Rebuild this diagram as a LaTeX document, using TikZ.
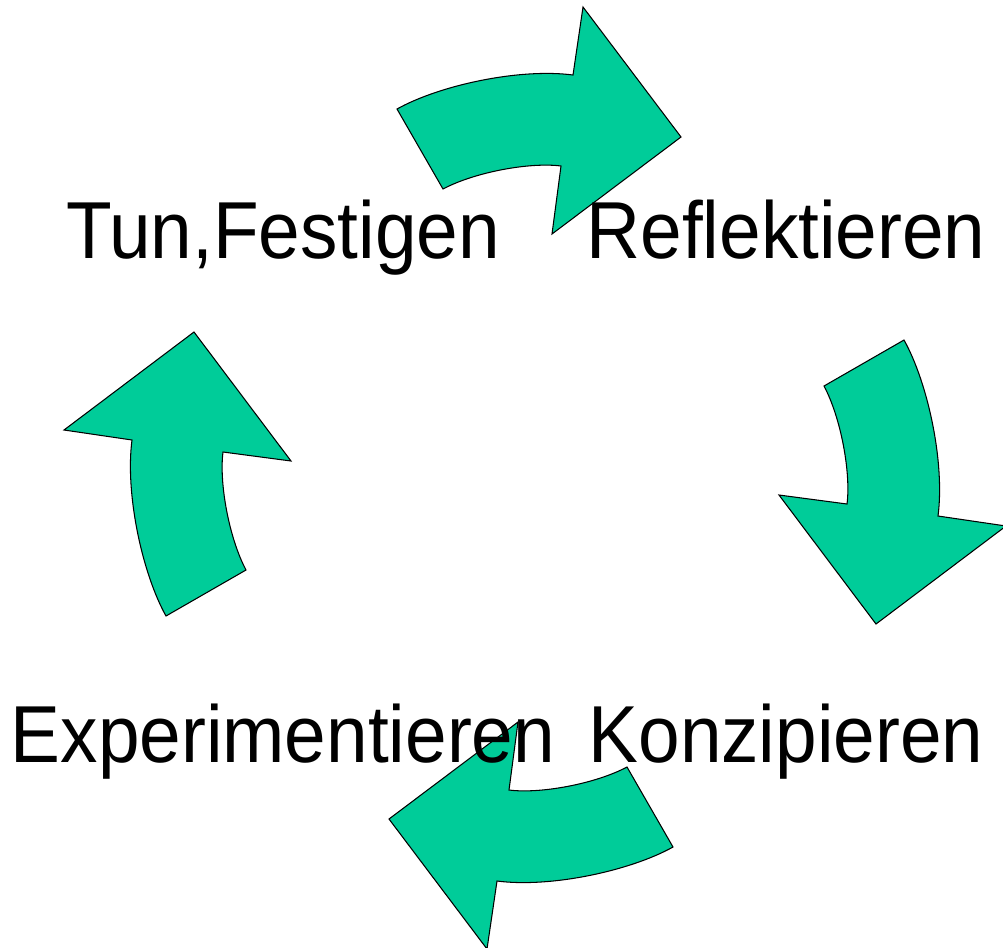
\documentclass[tikz,border=0pt]{standalone}
\usepackage{fontspec}
\newfontfamily\phasefont[FakeStretch=0.925]{Liberation Sans}
\definecolor{cyclegreen}{RGB}{0,204,153}

\begin{document}
\begin{tikzpicture}[x=0.02cm, y=-0.02cm]
    \tikzset{bent arrow/.style={draw=black, line width=0.6pt, fill=cyclegreen, line join=miter},
             phase/.style={anchor=base, inner sep=0pt, font=\phasefont\fontsize{46}{50}\selectfont}}
    \useasboundingbox (0,0) rectangle (1003,947);
    \coordinate (center) at (535,478);
    % the same arrow, turned a quarter each time
    \foreach \turn in {0,-90,-180,-270}
        \draw[bent arrow, shift={(center)}, rotate=\turn]
            (-138,-369) .. controls (-95,-393) and (-15,-410) .. (38,-403)
            -- (48,-471) -- (146,-341) -- (17,-244) -- (26,-312)
            .. controls (-5,-316) and (-60,-306) .. (-92,-289) -- cycle;
    \node[phase] (tun) at (283,258) {Tun,Festigen};
    \node[phase] (reflekt) at (786,258) {Reflektieren};
    \node[phase] (experiment) at (283,762) {Experimentieren};
    \node[phase] (konzip) at (786,762) {Konzipieren};
\end{tikzpicture}
\end{document}
